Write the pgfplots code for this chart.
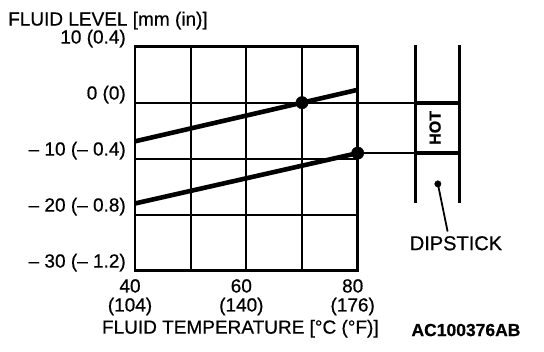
\documentclass[border=0pt]{standalone}
\usepackage{pgfplots}
\pgfplotsset{compat=1.18}
\usepackage{fontspec}
\setmainfont{Liberation Sans}[FakeBold=0.6]
\begin{document}
\begin{tikzpicture}
\fontsize{19}{21}\selectfont
\path[use as bounding box] (0,0) rectangle (544pt,352pt);
\begin{axis}[
  at={(135pt,81.3pt)}, anchor=south west,
  scale only axis, width=222.7pt, height=224pt,
  xmin=40, xmax=80, ymin=-30, ymax=10,
  xtick={40,50,60,70,80}, ytick={-30,-20,-10,0,10},
  xticklabels={{40\\(104)},{},{60\\(140)},{},{80\\(176)}},
  yticklabels={{– 30 (– 1.2)},{– 20 (– 0.8)},{– 10 (– 0.4)},{0 (0)},{10 (0.4)}},
  xticklabel style={align=center, font=\fontsize{19}{19}\selectfont, xshift=-5pt, yshift=-2pt},
  yticklabel style={anchor=south east, font=\fontsize{19}{20}\selectfont, inner sep=0pt, xshift=-9pt, yshift=-1pt},
  major tick length=0pt,
  grid=major, grid style={black, line width=2.2pt},
  axis line style={line width=2.6pt},
  clip=false,
  ylabel={FLUID LEVEL [mm (in)]},
  ylabel style={rotate=-90, at={(rel axis cs:0,1)}, anchor=south west, inner sep=0pt, xshift=-127pt, yshift=17pt, font=\fontsize{19}{20}\selectfont},
  xlabel={FLUID TEMPERATURE [°C (°F)]},
  xlabel style={at={(rel axis cs:0.5,0)}, anchor=north, inner sep=0pt, yshift=-49pt, xshift=-6pt, font=\fontsize{19}{20}\selectfont},
]
% fluid level lines
\addplot[black, line width=4.6pt] coordinates {(40,-6.9) (80,2.3)};
\addplot[black, line width=4.6pt] coordinates {(40,-18) (80,-9)};
\addplot[only marks, mark=*, mark size=6.2pt, black] coordinates {(70,0) (80,-9)};
% extensions to dipstick
\addplot[black, line width=2.2pt] coordinates {(80,0) (90.4,0)};
\addplot[black, line width=4pt] coordinates {(90.4,0) (98.25,0)};
\addplot[black, line width=2.2pt] coordinates {(80,-9) (90.4,-9)};
\addplot[black, line width=4pt] coordinates {(90.4,-9) (98.25,-9)};
% dipstick
\addplot[black, line width=2.4pt] coordinates {(90.4,10.3) (90.4,-17.9)};
\addplot[black, line width=2.4pt] coordinates {(98.25,10.3) (98.25,-17.9)};
\addplot[only marks, mark=*, mark size=3.2pt, black] coordinates {(94.4,-14.5)};
\addplot[black, line width=1.8pt] coordinates {(94.4,-14.5) (96.15,-23)};
\node[rotate=90, font=\bfseries\fontsize{16}{16}\selectfont] at (axis cs:93.9,-4.5) {HOT};
\node[font=\fontsize{20}{20}\selectfont] at (axis cs:97.65,-25.1) {DIPSTICK};
\node[font=\bfseries\fontsize{17.5}{18}\selectfont] at (axis cs:99.45,-40.6) {AC100376AB};
\end{axis}
\end{tikzpicture}
\end{document}
